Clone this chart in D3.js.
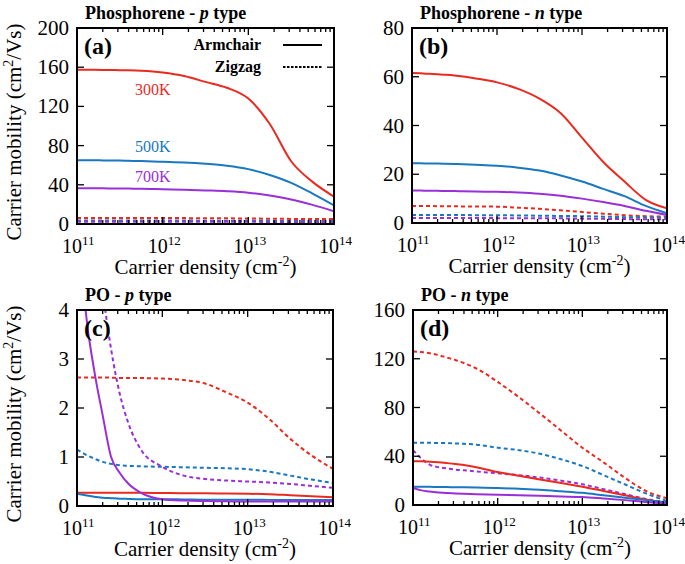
<!DOCTYPE html>
<html><head><meta charset="utf-8">
<script src="https://cdn.jsdelivr.net/npm/d3@7"></script>
<style>svg text{font-family:"Liberation Serif","Times New Roman",Tinos,"DejaVu Serif",FreeSerif !important}</style>
</head><body style="margin:0">
<svg id="chart" width="685" height="564"></svg>
<script>
// ---- data ----
const density = [1e11, 1.26e11, 1.58e11, 2e11, 2.51e11, 3.16e11, 3.98e11, 5.62e11, 1e12, 1.78e12, 3.16e12, 5.62e12, 1e13, 1.78e13, 3.16e13, 5.62e13, 1e14];
const xTickExps = [11, 12, 13, 14];

// Phosphorene p-type
const a_300_arm = [157.5,157.4,157.3,157.2,157.1,157,156.8,156.3,154.5,151,145,139,128,102,64,43,28];
const a_500_arm = [65,65,65,64.9,64.8,64.7,64.5,64.2,63.5,62.8,61.5,59.5,56,50,42,31,19];
const a_700_arm = [36.5,36.5,36.4,36.4,36.3,36.2,36.1,36,35.5,35,34.3,33.5,32,29,25,19.5,13];
const a_300_zig = [6.2,6.2,6.2,6.2,6.2,6.1,6.1,6.1,6,6,5.9,5.8,5.6,5.4,5.2,5.1,5];
const a_500_zig = [3.6,3.6,3.6,3.6,3.6,3.6,3.6,3.5,3.5,3.5,3.4,3.4,3.3,3.2,3.1,3.05,3];
const a_700_zig = [2.4,2.4,2.4,2.4,2.4,2.4,2.4,2.4,2.35,2.3,2.3,2.25,2.2,2.15,2.1,2.05,2];
// Phosphorene n-type
const b_300_arm = [61.5,61.4,61.2,61,60.8,60.5,60.1,59.3,57.7,55,51,45,35,25,17,9.5,6];
const b_500_arm = [24.5,24.5,24.4,24.4,24.3,24.2,24.1,23.9,23.5,22.7,21.5,19.5,17,14,11,7,4];
const b_700_arm = [13.3,13.3,13.2,13.2,13.1,13.1,13,12.9,12.8,12.5,12,11.2,10,8.6,7,5,3.3];
const b_300_zig = [7,7,7,6.9,6.9,6.9,6.8,6.8,6.7,6.3,5.8,5.2,4.5,3.8,3.2,2.8,2.6];
const b_500_zig = [3.3,3.3,3.3,3.3,3.3,3.3,3.3,3.2,3.2,3.1,3,2.9,2.8,2.6,2.4,2.3,2.2];
const b_700_zig = [2.1,2.1,2.1,2.1,2.1,2.1,2.1,2.1,2,2,1.9,1.9,1.8,1.7,1.6,1.55,1.5];
// PO p-type
const c_300_arm = [0.27,0.27,0.27,0.27,0.27,0.27,0.27,0.27,0.265,0.26,0.26,0.255,0.25,0.24,0.22,0.2,0.18];
const c_500_arm = [0.25,0.22,0.19,0.17,0.16,0.15,0.145,0.14,0.14,0.135,0.13,0.13,0.13,0.125,0.12,0.12,0.12];
const c_700_arm = [6.5,4.0,2.8,1.85,1.0,0.68,0.46,0.27,0.14,0.11,0.1,0.095,0.09,0.09,0.09,0.09,0.09];
const c_300_zig = [2.62,2.62,2.62,2.62,2.62,2.61,2.61,2.61,2.6,2.57,2.5,2.32,2.11,1.78,1.37,1.03,0.76];
const c_500_zig = [1.15,1.05,0.97,0.9,0.86,0.83,0.82,0.81,0.8,0.79,0.78,0.77,0.75,0.7,0.62,0.54,0.47];
const c_700_zig = [12,8.5,6,4.4,3.2,2.3,1.7,1.15,0.8,0.62,0.55,0.52,0.5,0.48,0.45,0.41,0.37];
// PO n-type
const d_300_arm = [36,35.8,35.5,35,34.4,33.7,32.8,31,27,24,21,18,15,11.5,8,4.5,1.5];
const d_500_arm = [15,15,14.9,14.8,14.7,14.6,14.5,14.3,14,13.3,12.5,11.3,10,8,6,4,2];
const d_700_arm = [14,12,11,10.3,9.8,9.5,9.2,8.9,8.5,8,7.5,7,6.5,5.3,4,2.5,1];
const d_300_zig = [126,125.5,124.5,123,121,119,116.5,112,101,88.5,75,61,47,35,22.5,11.5,5.5];
const d_500_zig = [51,51,51,50.9,50.8,50.5,50.2,49.5,47,45,42,37.5,32,24.5,17,9.5,3.3];
const d_700_zig = [45,38,33,31,30,29,28.5,27.5,26,24.5,22.5,20,17,13,9,5,2];

const yTicksA = [0,40,80,120,160,200];
const yTicksB = [0,20,40,60,80];
const yTicksC = [0,1,2,3,4];
const yTicksD = [0,40,80,120,160];

const tempLabels = ["300K","500K","700K"];
const legendLabels = ["Armchair","Zigzag"];
const colors = ["#ea2a1f","#1a78c0","#9a2fd8"];

// ---- layout ----
const panels = [
  {id:"a", title:["Phosphorene - ","p"," type"], x0:77, x1:334, y0:28, y1:224, ymax:200, ticks:yTicksA,
   arm:[a_300_arm,a_500_arm,a_700_arm], zig:[a_300_zig,a_500_zig,a_700_zig], ylabel:true},
  {id:"b", title:["Phosphorene - ","n"," type"], x0:412, x1:667, y0:28, y1:223, ymax:80, ticks:yTicksB,
   arm:[b_300_arm,b_500_arm,b_700_arm], zig:[b_300_zig,b_500_zig,b_700_zig], ylabel:false},
  {id:"c", title:["PO - ","p"," type"], x0:77, x1:333, y0:310, y1:506, ymax:4, ticks:yTicksC,
   arm:[c_300_arm,c_500_arm,c_700_arm], zig:[c_300_zig,c_500_zig,c_700_zig], ylabel:true},
  {id:"d", title:["PO - ","n"," type"], x0:413, x1:667, y0:310, y1:505, ymax:160, ticks:yTicksD,
   arm:[d_300_arm,d_500_arm,d_700_arm], zig:[d_300_zig,d_500_zig,d_700_zig], ylabel:false}
];

const svg = d3.select("#chart");
const FONT = '"Liberation Serif", "Times New Roman", Tinos, "DejaVu Serif", FreeSerif';
const marks = svg.append("g");

function txt(x, y, size){
  return svg.append("text").attr("x",x).attr("y",y).attr("font-size",size)
    .attr("font-family",FONT).style("font-family",FONT);
}

panels.forEach((p, pi) => {
  const x = d3.scaleLog().domain([1e11,1e14]).range([p.x0,p.x1]);
  const y = d3.scaleLinear().domain([0,p.ymax]).range([p.y1,p.y0]);
  const g = marks.append("g");
  const clipId = "clip"+p.id;
  g.append("clipPath").attr("id",clipId).append("rect")
    .attr("x",p.x0).attr("y",p.y0).attr("width",p.x1-p.x0).attr("height",p.y1-p.y0);

  const line = d3.line().x((d,i)=>x(density[i])).y(d=>y(d)).curve(d3.curveMonotoneX);
  const lg = g.append("g").attr("clip-path","url(#"+clipId+")");
  p.zig.forEach((s,i)=>{
    lg.append("path").attr("d",line(s)).attr("fill","none").attr("stroke",colors[i])
      .attr("stroke-width",2).attr("stroke-dasharray","4,3");
  });
  p.arm.forEach((s,i)=>{
    lg.append("path").attr("d",line(s)).attr("fill","none").attr("stroke",colors[i])
      .attr("stroke-width",2);
  });

  const majors = xTickExps.map(e=>Math.pow(10,e));
  const minors = [];
  for (let e=11;e<14;e++) for (let k=2;k<=9;k++) minors.push(k*Math.pow(10,e));
  const tg = g.append("g").attr("stroke","#000").attr("stroke-width",1.3);
  minors.forEach(v=>{
    tg.append("line").attr("x1",x(v)).attr("x2",x(v)).attr("y1",p.y1).attr("y2",p.y1-4);
    tg.append("line").attr("x1",x(v)).attr("x2",x(v)).attr("y1",p.y0).attr("y2",p.y0+4);
  });
  majors.forEach(v=>{
    tg.append("line").attr("x1",x(v)).attr("x2",x(v)).attr("y1",p.y1).attr("y2",p.y1-7);
    tg.append("line").attr("x1",x(v)).attr("x2",x(v)).attr("y1",p.y0).attr("y2",p.y0+7);
  });
  p.ticks.forEach(v=>{
    tg.append("line").attr("x1",p.x0).attr("x2",p.x0+7).attr("y1",y(v)).attr("y2",y(v));
    tg.append("line").attr("x1",p.x1).attr("x2",p.x1-7).attr("y1",y(v)).attr("y2",y(v));
  });

  g.append("rect").attr("x",p.x0).attr("y",p.y0).attr("width",p.x1-p.x0).attr("height",p.y1-p.y0)
    .attr("fill","none").attr("stroke","#000").attr("stroke-width",2);

  // y tick labels
  p.ticks.forEach(v=>{
    txt(p.x0-8, y(v)+7, 21).attr("text-anchor","end").text(v);
  });
  // x tick labels ("10" roughly centred on the tick, exponent to its right)
  xTickExps.forEach(e=>{
    const t = txt(x(Math.pow(10,e))-15, p.y1+29, 20).attr("text-anchor","start");
    t.append("tspan").text("10");
    t.append("tspan").attr("font-size",13).attr("dy",-8).text(String(e));
  });
  // x title
  const xt = txt((p.x0+p.x1)/2, p.y1+50, 21).attr("text-anchor","middle");
  xt.append("tspan").text("Carrier density (cm");
  xt.append("tspan").attr("font-size",14).attr("dy",-8).text("-2");
  xt.append("tspan").attr("dy",8).text(")");
  // y title
  if (p.ylabel) {
    const cy = (p.y0+p.y1)/2 + 6;
    const yt = txt(0, 0, 21).attr("transform",`translate(21,${cy}) rotate(-90)`).attr("text-anchor","middle");
    yt.append("tspan").text("Carrier mobility (cm");
    yt.append("tspan").attr("font-size",14).attr("dy",-8).text("2");
    yt.append("tspan").attr("dy",8).text("/Vs)");
  }
  // panel title
  const tt = txt(p.x0+8, p.y0-9, 18).attr("font-weight","bold");
  tt.append("tspan").text(p.title[0]);
  tt.append("tspan").attr("font-style","italic").text(p.title[1]);
  tt.append("tspan").text(p.title[2]);
  // panel label
  txt(p.x0+7, p.y0+26, 24).attr("font-weight","bold").text("("+p.id+")");

  if (pi===0) {
    const ly = [p.y0+17, p.y0+39];
    legendLabels.forEach((lab,i)=>{
      txt(p.x0+184, ly[i]+5, 16).attr("text-anchor","end").attr("font-weight","bold").text(lab);
      g.append("line").attr("x1",p.x0+206).attr("x2",p.x0+245).attr("y1",ly[i]).attr("y2",ly[i])
        .attr("stroke","#000").attr("stroke-width",2.2).attr("stroke-dasharray", i===0? null : "2.5,1.5");
    });
    const tY = [95, 152, 182];
    tempLabels.forEach((lab,i)=>{
      txt(135, tY[i], 16).attr("fill",colors[i]).text(lab);
    });
  }
});
</script>
</body></html>
